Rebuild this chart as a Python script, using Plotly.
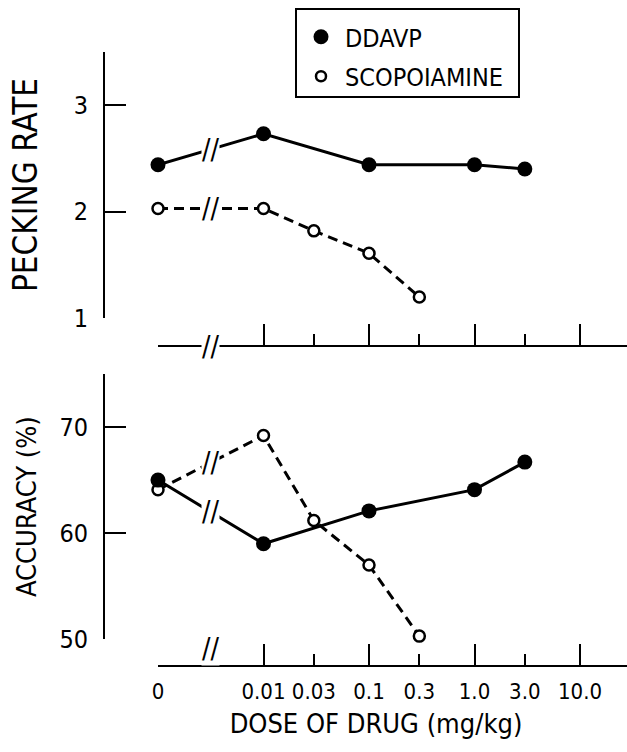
import math
import plotly.graph_objects as go

# ---------------- data ----------------
tick_doses = [0, 0.01, 0.03, 0.1, 0.3, 1.0, 3.0, 10.0]
tick_labels = ["0", "0.01", "0.03", "0.1", "0.3", "1.0", "3.0", "10.0"]

ddavp_doses = [0, 0.01, 0.1, 1.0, 3.0]
ddavp_rate = [2.44, 2.73, 2.44, 2.44, 2.40]
ddavp_acc = [65.0, 59.0, 62.1, 64.1, 66.7]

scop_doses = [0, 0.01, 0.03, 0.1, 0.3]
scop_rate = [2.03, 2.03, 1.82, 1.61, 1.20]
scop_acc = [64.1, 69.2, 61.2, 57.0, 50.3]

rate_ticks = [1, 2, 3]
acc_ticks = [50, 60, 70]

# ---------------- geometry ----------------
W, H = 627, 752
FONT = "DejaVu Sans Condensed, DejaVu Sans, sans-serif"
ZERO_POS = 0.001            # broken axis: "0" drawn one decade below 0.01
PX_DEC = 105.5              # pixels per decade
X0_PX = 158                 # pixel of the "0" dose
XMAX_LOG = math.log10(ZERO_POS) + (W - X0_PX) / PX_DEC
LABEL_AX_LEFT = 125         # left edge of the label/title axis (centres the title)


def to_axis(d):
    return d if d > 0 else ZERO_POS


def fx(p):
    return p / W


def fy(p):
    return 1 - p / H


tick_pos = [to_axis(d) for d in tick_doses]
decades = [p for p in tick_pos if abs(math.log10(p) - round(math.log10(p))) < 1e-9]
minors = [p for p in tick_pos if p not in decades]

fig = go.Figure()

solid = dict(color="black", width=3)
dashed = dict(color="black", width=3, dash="10px,6px")
filled = dict(symbol="circle", size=15, color="black")
opened = dict(symbol="circle", size=11, color="white", line=dict(color="black", width=2.5))

for xa, ya, dv, sv in [("x", "y", ddavp_rate, scop_rate), ("x2", "y2", ddavp_acc, scop_acc)]:
    fig.add_trace(go.Scatter(x=[to_axis(d) for d in scop_doses], y=sv, mode="lines+markers",
                             line=dashed, marker=opened, xaxis=xa, yaxis=ya,
                             showlegend=False, cliponaxis=False))
    fig.add_trace(go.Scatter(x=[to_axis(d) for d in ddavp_doses], y=dv, mode="lines+markers",
                             line=solid, marker=filled, xaxis=xa, yaxis=ya,
                             showlegend=False, cliponaxis=False))

# legend entries (marker only)
fig.add_trace(go.Scatter(x=[None], y=[None], mode="markers", name="DDAVP", legendgroup="a",
                         marker=dict(symbol="circle", size=15, color="black"),
                         xaxis="x3", yaxis="y2"))
fig.add_trace(go.Scatter(x=[None], y=[None], mode="markers", name="SCOPOIAMINE", legendgroup="b",
                         marker=dict(symbol="circle", size=10, color="white",
                                     line=dict(color="black", width=2.5)),
                         xaxis="x3", yaxis="y2"))

# ---------------- axes ----------------
yl_top, yt_top = 318.3, 51.7
yl_bot, yt_bot = 639.3, 374
xline_top, xline_bot = 346, 666
yspine = 104

ytickfont = dict(family=FONT, size=25, color="black")
xtickfont = dict(family=FONT, size=22, color="black")

common_y = dict(anchor="free", position=fx(yspine), showline=True, linecolor="black",
                linewidth=2, ticks="inside", ticklen=21, tickwidth=2, tickcolor="black",
                showgrid=False, zeroline=False, tickfont=ytickfont, ticklabelstandoff=10,
                automargin=False)

common_x = dict(type="log", domain=[fx(X0_PX), 1], range=[math.log10(ZERO_POS), XMAX_LOG],
                anchor="free", showline=True, linecolor="black", linewidth=2,
                ticks="inside", ticklen=21, tickwidth=2, tickcolor="black",
                tickmode="array", tickvals=decades, showgrid=False, zeroline=False,
                minor=dict(tickmode="array", tickvals=minors, ticks="inside", ticklen=11,
                           tickwidth=2, tickcolor="black", showgrid=False),
                showticklabels=False, automargin=False)

fig.update_layout(
    width=W, height=H, margin=dict(l=0, r=0, t=0, b=0, autoexpand=False),
    paper_bgcolor="white", plot_bgcolor="rgba(0,0,0,0)",
    font=dict(family=FONT, color="black"),
    yaxis=dict(common_y, domain=[fy(yl_top), fy(yt_top)], range=[1, 3.5],
               tickvals=rate_ticks,
               title=dict(text="PECKING RATE", font=dict(family=FONT, size=33, color="black"),
                          standoff=25)),
    yaxis2=dict(common_y, domain=[fy(yl_bot), fy(yt_bot)], range=[50, 75],
                tickvals=acc_ticks,
                title=dict(text="ACCURACY (%)", font=dict(family=FONT, size=27, color="black"),
                           standoff=14)),
    xaxis=dict(common_x, position=fy(xline_top)),
    xaxis2=dict(common_x, position=fy(xline_bot)),
    xaxis3=dict(type="log", anchor="free", position=fy(xline_bot),
                domain=[fx(LABEL_AX_LEFT), 1],
                range=[math.log10(ZERO_POS) - (X0_PX - LABEL_AX_LEFT) / PX_DEC, XMAX_LOG],
                tickmode="array", tickvals=tick_pos, ticktext=tick_labels,
                ticks="", showline=False, showgrid=False, zeroline=False,
                tickfont=xtickfont, ticklabelstandoff=10, automargin=False,
                title=dict(text="DOSE OF DRUG (mg/kg)", font=dict(family=FONT, size=27, color="black"),
                           standoff=11)),
    legend=dict(x=fx(297), y=fy(14), xanchor="left", yanchor="top",
                borderwidth=0, bgcolor="rgba(0,0,0,0)",
                font=dict(family=FONT, size=25, color="black"),
                tracegroupgap=4, itemwidth=38),
)

# legend frame
fig.add_shape(type="rect", xref="paper", yref="paper",
              x0=fx(296), x1=fx(519), y0=fy(97), y1=fy(9),
              line=dict(color="black", width=2), fillcolor="rgba(0,0,0,0)")

# ---------------- axis breaks ----------------
mid_log = (math.log10(ZERO_POS) + math.log10(0.01)) / 2
brk_font = dict(family=FONT, size=28, color="black")
for pos in (xline_top, xline_bot):
    fig.add_annotation(x=mid_log, y=fy(pos), xref="x", yref="paper", text="//",
                       showarrow=False, font=brk_font, bgcolor="white", borderpad=0)
for xr, yr, doses, vals in [("x", "y", ddavp_doses, ddavp_rate), ("x", "y", scop_doses, scop_rate),
                            ("x2", "y2", ddavp_doses, ddavp_acc), ("x2", "y2", scop_doses, scop_acc)]:
    fig.add_annotation(x=mid_log, y=(vals[0] + vals[1]) / 2, xref=xr, yref=yr, text="//",
                       showarrow=False, font=brk_font, bgcolor="white", borderpad=0)

fig.write_html("out.html", config={"displayModeBar": False},
               post_script="document.body.style.margin='0';document.body.style.overflow='hidden';")
